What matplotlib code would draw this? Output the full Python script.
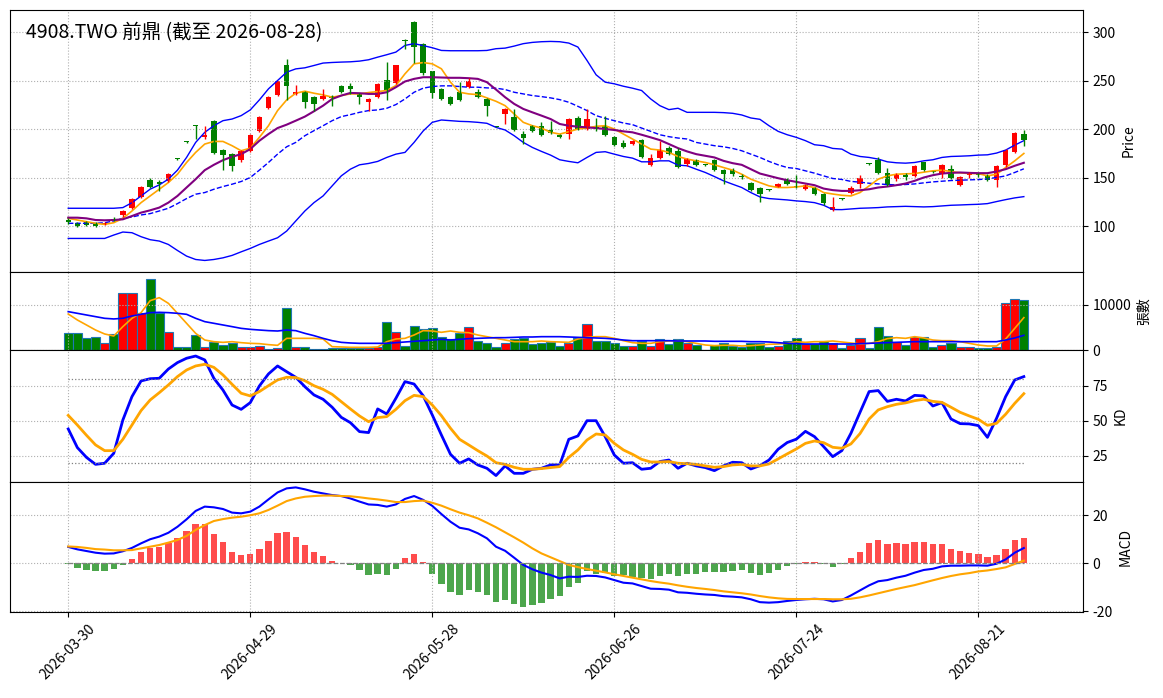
import numpy as np
import matplotlib
matplotlib.use("Agg")
import matplotlib.pyplot as plt

plt.rcParams['font.family'] = ['Noto Sans CJK TC', 'DejaVu Sans']
plt.rcParams['axes.unicode_minus'] = False

title = "4908.TWO 前鼎 (截至 2026-08-28)"
tick_labels = ["2026-03-30", "2026-04-29", "2026-05-28", "2026-06-26", "2026-07-24", "2026-08-21"]
tick_step = 20

open_ = [106, 103.5, 104, 103.5, 102.5, 107.5, 111, 119, 130, 147.5,
         145, 146, 169.5, 187, 204, 191.5, 208.5, 178, 174, 168,
         177.5, 197.5, 221.5, 235, 266, 236, 238, 233.5, 231, 234,
         244, 244, 236, 228, 233, 250.5, 247, 291.5, 310, 288,
         259.5, 241.5, 233.5, 238, 243, 238.5, 230.5, 203, 215, 212,
         195, 203.5, 203.5, 199.5, 194, 195, 211.5, 200, 202, 203.5,
         192, 185.5, 185, 189, 163, 170, 180.5, 177.5, 164, 168,
         163, 168, 158, 158, 151.5, 144, 139, 137.5, 140.5, 147,
         141, 138, 139.5, 133.5, 116.5, 128.5, 134, 143.5, 164, 168.5,
         155, 148.5, 152.5, 151.5, 165.5, 156, 153.5, 158.5, 142, 152.5,
         154, 152.5, 147, 163, 176, 195]
high = [108, 104, 105, 104, 104, 109, 117, 128.5, 141, 150,
        147, 154.5, 170, 187.5, 204.5, 203, 209.5, 179, 175, 178.5,
        195, 213.5, 234.5, 250, 272.5, 245, 239, 234.5, 241, 235,
        245, 247, 237, 232, 247, 269, 266.5, 292.5, 311, 289,
        260, 242.5, 234.5, 248, 253, 241, 231.5, 203.5, 221.5, 220.5,
        198, 204.5, 207, 208, 195, 211.5, 213, 220.5, 211, 213,
        193, 189, 189, 190, 174, 188, 182, 180, 170, 169,
        163.5, 169, 159, 159.5, 154, 145, 140, 138, 144.5, 149,
        153, 143.5, 140.5, 134.5, 129.5, 129, 141.5, 153, 164.5, 171,
        160, 155, 155, 162.5, 166.5, 157, 164, 163, 152, 156,
        155, 153.5, 162.5, 179.5, 197, 198.5]
low = [102, 99.5, 100, 99.5, 101.5, 105, 109, 118, 129, 139.5,
       136.5, 145, 168.5, 186, 189.5, 190, 174, 157.5, 157, 166.5,
       176.5, 196.5, 220.5, 234, 229.5, 235, 221.5, 218.5, 230, 224,
       237, 236.5, 226, 218.5, 232, 230, 246, 283, 268, 256,
       232, 229.5, 224.5, 228.5, 242, 232, 213, 202, 205, 198,
       185, 196.5, 193, 195, 190.5, 190, 199, 199, 198, 193,
       182.5, 180, 184, 170, 162, 169, 173, 159.5, 162, 162,
       162, 156.5, 143, 152, 148, 136, 125, 136, 140, 142,
       139, 137, 132, 121.5, 116, 126.5, 133, 139.5, 163, 154,
       141, 146, 147.5, 150.5, 157, 155, 149.5, 148.5, 141, 150,
       151, 146.5, 140, 160.5, 175, 182]
close = [104, 100.5, 101, 100, 103, 106.5, 116, 127.5, 140, 140.5,
         143.5, 153.5, 169, 186.5, 203.5, 194, 175, 173.5, 162, 177.5,
         194, 212.5, 233.5, 249, 244, 238, 227.5, 226, 234.5, 232,
         238, 241, 233, 230.5, 246, 240.5, 265.5, 291, 285, 257.5,
         237, 230.5, 225.5, 229.5, 250, 233, 224, 202.5, 220.5, 199,
         190.5, 197.5, 194, 196, 191.5, 210.5, 200, 210.5, 201.5, 194,
         183.5, 181, 188, 171.5, 170.5, 178.5, 174, 161, 169, 163,
         162.5, 157.5, 153.5, 154, 151, 137, 133.5, 137, 143, 143,
         140.5, 142.5, 133, 124, 119.5, 128, 139.5, 149, 163.5, 155,
         142, 153, 150.5, 161.5, 158, 155.5, 162.5, 149.5, 151, 154.5,
         152.5, 147, 161.5, 178.5, 196, 189]

ma5 = [107.9, 106.2, 104.5, 102.8, 101.7, 103.4, 107.9, 115.5, 124.1, 131,
       137.9, 144.8, 153.4, 165.5, 175.9, 184.5, 187.2, 187.2, 182.8, 177.6,
       180.3, 191.4, 203.4, 219, 230, 236.9, 239, 236.9, 235.2, 232.8,
       234.5, 236.2, 236.2, 237.6, 238.6, 239.7, 244.8, 256.9, 267.2, 268.5,
       267.2, 262.1, 248.3, 237.9, 236.2, 235.5, 232.1, 228.6, 224.1, 215.5,
       206.9, 203.4, 201, 196.6, 194.8, 197.2, 200, 201, 202.8, 203.4,
       200, 194.8, 189.7, 184.5, 179.3, 178.3, 175.9, 171.7, 169, 167.2,
       165.5, 163.1, 160.3, 157.6, 153.4, 148.3, 144.8, 141.4, 139.7, 139.7,
       140.3, 141.4, 139.7, 134.5, 133, 131.7, 131, 134.5, 141.4, 148.3,
       151.7, 153.4, 153.8, 154.1, 155.5, 156.9, 157.6, 156.2, 154.8, 154.1,
       154.1, 151.7, 153.4, 160.3, 167.2, 174.8]
ma10 = [108.6, 108.6, 107.9, 106.2, 105.9, 106.2, 106.9, 110.3, 113.8, 116.2,
        119, 124.1, 131, 139.7, 148.3, 157.6, 163.1, 167.9, 171.4, 174.1,
        179.3, 187.9, 194.8, 201, 204.5, 208.6, 212.8, 218.3, 224.1, 231,
        234.5, 237.2, 236.9, 236.2, 236.2, 237.9, 243.1, 249, 251.7, 253.4,
        253.4, 253.1, 252.8, 252.8, 252.4, 251.7, 248.3, 240.7, 232.8, 225.9,
        220.7, 217.2, 213.8, 210.3, 205.2, 203.4, 202.4, 201.7, 201, 200,
        199, 197.6, 196.6, 194.1, 191.4, 188.6, 184.5, 180.3, 176.9, 174.1,
        172.4, 170.7, 167.2, 164.8, 163.1, 158.6, 154.1, 151.7, 149.3, 147.2,
        145.5, 143.8, 142.1, 138.6, 137, 136.2, 136.2, 136.9, 137.9, 139.7,
        140.7, 142.1, 143.8, 146.6, 150, 152.4, 154.1, 154.8, 155.2, 154.8,
        154.5, 154.5, 156.2, 158.6, 162.1, 165.2]
bb_mid = [102.8, 102.8, 102.8, 102.8, 103.4, 105.2, 108, 109.3, 111.4, 112.8,
          115.5, 118.3, 123.1, 128.3, 132.8, 134.5, 137.9, 140.7, 143.1, 145.9,
          150, 157.6, 165.5, 174.1, 181.7, 186.2, 193.1, 198.3, 203.4, 208.6,
          212.8, 214.8, 217.2, 219, 219.7, 221.4, 225.2, 231, 237.9, 242.1,
          243.8, 244.5, 244.5, 243.8, 243.1, 243.1, 242.4, 242.1, 240.7, 237.9,
          236.2, 234.5, 233.4, 232.1, 230.3, 227.6, 223.4, 219, 213.8, 211,
          208.6, 206.2, 204.5, 201, 197.6, 194.1, 192.1, 190.7, 189.7, 186.2,
          184.5, 182.8, 181.7, 180, 177.6, 174.1, 170.7, 166.6, 163.1, 160.3,
          159.3, 156.9, 154.5, 151.7, 149, 148, 146, 145.2, 144.1, 143.4,
          142.8, 142.4, 142.8, 143.4, 144.5, 145.5, 146.2, 146.9, 147.2, 147.6,
          147.9, 148.6, 150, 151.7, 155.2, 159]
bb_up = [118.3, 118.3, 118.3, 118.3, 118.3, 118.3, 119, 124, 131, 138,
         142.4, 148.3, 157.6, 170.7, 186.2, 196.6, 203.4, 208.6, 210.3, 213.8,
         219.7, 230, 241.4, 250, 258.6, 262, 263.1, 265.5, 268, 268.6,
         269, 269.3, 270, 271.4, 274.1, 276.6, 279.3, 286.2, 288, 286,
         283.8, 281, 280.7, 280.7, 280.7, 280.7, 281, 282.8, 283.4, 285.5,
         288, 289.3, 290, 290.3, 290, 288.6, 284.5, 270.7, 255.9, 248.3,
         246.6, 244.1, 242.1, 239.7, 231, 224.1, 220, 221.4, 217.2, 217.2,
         217.2, 217.2, 216.9, 216.2, 214.5, 211.4, 210, 203.4, 197.6, 194.1,
         191.4, 188, 183.8, 182.8, 180, 179.3, 174.1, 171.7, 170.7, 169,
         166.2, 165.2, 164.8, 165.5, 167.2, 168.3, 170.7, 171.7, 172, 172.4,
         173.1, 173.4, 175.2, 178.3, 183.4, 188]
bb_low = [87.2, 87.2, 87.2, 87.2, 87.2, 90.7, 93.8, 93.1, 89, 85.9,
          84.5, 81, 74.8, 69, 65.5, 64.5, 65.5, 67.2, 69.7, 73.4,
          76.9, 81, 84.5, 87.9, 94.8, 105.2, 115.5, 124.1, 131, 141.4,
          151.7, 158.6, 163.1, 164.5, 166.6, 170.7, 174.1, 175.9, 186.2, 198,
          206.9, 209.3, 208.6, 207.9, 207.6, 206.9, 205.9, 201.7, 199, 193.1,
          186.2, 181, 176.9, 173.1, 168.3, 166.6, 165.2, 170.7, 175.9, 176.6,
          174.1, 171.7, 170, 166.2, 166.2, 167.2, 167.2, 162.8, 162.1, 158.6,
          155.2, 151, 146.6, 143.1, 139.7, 134.5, 130, 128.3, 127.6, 126.9,
          125.9, 125.2, 124.1, 121.4, 117, 116.9, 117.6, 118.3, 118.6, 119,
          119.7, 120, 120.3, 120, 119.7, 120, 120.7, 121.4, 121.7, 122.1,
          122.4, 123.1, 125.2, 127.2, 129, 130.3]

volume = [3700, 3700, 2600, 2960, 1630, 3480, 12600, 12600, 8300, 15700,
          8300, 3930, 740, 590, 3260, 740, 1700, 1180, 1480, 670,
          670, 890, 300, 520, 9260, 740, 590, 300, 220, 520,
          520, 370, 370, 520, 590, 6300, 4070, 960, 5400, 4600,
          4800, 2960, 2370, 3700, 5040, 2000, 1630, 590, 1630, 2370,
          2740, 1260, 1480, 1700, 960, 1480, 2740, 5700, 2070, 2070,
          1480, 960, 960, 2000, 960, 2440, 1260, 2370, 1480, 1040,
          100, 1040, 1480, 890, 590, 1480, 1480, 670, 960, 2070,
          2590, 1260, 1260, 1930, 1560, 440, 1040, 2740, 370, 5190,
          3190, 1850, 1040, 2810, 2960, 740, 1190, 1480, 740, 590,
          520, 520, 590, 10370, 11330, 11190]
vol_ma5 = [8000, 6670, 5560, 4440, 3560, 3110, 5190, 7040, 8300, 10960,
           11630, 10370, 8150, 5930, 3700, 2220, 1850, 1700, 1850, 1630,
           1480, 1410, 1190, 1040, 2590, 2590, 2590, 2590, 2440, 740,
           670, 590, 590, 590, 670, 1850, 2440, 2590, 3330, 4300,
           4220, 3930, 4220, 3930, 3850, 3330, 2960, 2590, 2220, 1850,
           1850, 1850, 2000, 1850, 1780, 1700, 2440, 2810, 2960, 2960,
           2590, 2070, 1630, 1480, 1480, 1850, 2000, 2070, 1850, 1480,
           1110, 960, 1040, 1040, 890, 960, 1110, 1260, 1330, 1480,
           1850, 1700, 1850, 1850, 2000, 1780, 1560, 1330, 1480, 1850,
           2520, 2740, 2590, 2960, 2670, 2220, 2070, 2070, 1850, 1480,
           1110, 890, 890, 2440, 4810, 7190]
vol_ma20 = [8520, 8150, 7780, 7410, 7040, 6900, 7040, 7560, 7930, 8300,
            8370, 8300, 8150, 7930, 7040, 6300, 5930, 5560, 5190, 4810,
            4590, 4440, 4300, 4220, 4440, 4300, 3700, 3190, 2590, 2070,
            1700, 1560, 1480, 1480, 1480, 1480, 1630, 1780, 1930, 2070,
            2220, 2370, 2220, 2370, 2520, 2590, 2670, 2740, 2740, 2810,
            2890, 2890, 2960, 2960, 2960, 2890, 2810, 2740, 2670, 2590,
            2440, 2220, 2070, 2070, 2070, 2070, 2070, 2000, 2000, 2000,
            2000, 1930, 1930, 1930, 1930, 1850, 1850, 1780, 1630, 1480,
            1410, 1330, 1330, 1330, 1330, 1330, 1330, 1410, 1480, 1560,
            1630, 1700, 1780, 1850, 1850, 1850, 1850, 1850, 1850, 1850,
            1850, 1850, 1850, 2220, 2670, 3260]

k_line = [44.3, 31, 24, 19, 19.8, 26.9, 50.7, 67.4, 78.6, 80.2,
          80.5, 87.1, 91.7, 94.8, 96.4, 93.6, 80.5, 72.1, 61.4, 58.3,
          63.1, 75, 83.6, 89.3, 85.2, 81.2, 74.5, 68.6, 65.5, 59.8,
          52.6, 48.8, 42.4, 41.7, 58.6, 55, 66.2, 78.1, 76.4, 68,
          54.3, 40, 26.2, 19.8, 22.9, 18.6, 16.2, 11, 17.9, 12.6,
          12.6, 15.5, 16.2, 18.6, 18.6, 36.9, 39.3, 50.2, 50.2, 38.8,
          25.7, 19.8, 20.2, 15.5, 16.2, 21, 22.1, 16.2, 19.8, 17.9,
          16.7, 14.5, 17.9, 20.5, 20.2, 15.7, 18.1, 22.1, 29.8, 34.6,
          37, 42.6, 38.8, 31.7, 24.5, 28.8, 41.2, 56.2, 71, 71.7,
          64, 65.5, 64.3, 68.3, 67.9, 60.7, 63.1, 51.4, 48.1, 47.9,
          46.7, 38.3, 51.9, 67.4, 79.3, 81.7]
d_line = [54, 47.1, 39.8, 32.9, 28.8, 28.8, 36.9, 47.1, 57.4, 65,
          70.2, 75.7, 81.7, 86.4, 89.3, 90.5, 88.3, 82.9, 76.2, 69.8,
          67.9, 71, 75.2, 79.3, 81.2, 81, 78.8, 75.2, 72.6, 69,
          63.8, 58.6, 53.6, 49.5, 52.4, 53.1, 58.3, 64.5, 68.3, 67.4,
          61.4, 53.8, 44.8, 36.9, 32.9, 28.8, 25, 20.2, 19, 16.9,
          15.5, 15.5, 16, 16.7, 17.4, 24, 29.3, 36.4, 40.7, 40,
          34, 29.3, 26.2, 22.6, 20.7, 20.7, 21, 19.8, 19.5, 19,
          17.9, 16.9, 17.4, 18.6, 19, 17.9, 17.9, 19.3, 22.9, 26.5,
          30, 34, 35.7, 34.5, 31.2, 30.5, 33.6, 41, 51.4, 57.9,
          60.2, 61.9, 62.9, 64.5, 65.5, 64, 63.3, 59.8, 56.2, 53.6,
          51.2, 46.9, 48.3, 54.8, 62.6, 69.5]
kd_levels = [20, 80]

dif = [6.7, 5.7, 5, 4.3, 3.9, 4, 4.9, 6.3, 8.2, 9.9,
       11, 12.6, 15.1, 18.2, 21.7, 23.5, 23.2, 22.5, 21, 20.7,
       21.4, 23.5, 26.5, 29.4, 31.1, 31.5, 30.7, 29.7, 29, 28.3,
       27.9, 26.9, 25.6, 24.4, 24.2, 23.5, 24.4, 26.7, 27.9, 26.3,
       23.8, 20.4, 17.2, 14.7, 14, 12.4, 10.3, 6.8, 5.1, 2.2,
       -0.8, -2.6, -4, -5, -6.4, -5.7, -5.8, -5.3, -5.4, -6,
       -7.1, -8.2, -8.5, -9.6, -10.7, -10.8, -11.1, -12.2, -12.4, -12.8,
       -13.1, -13.3, -13.8, -14, -14.3, -15.1, -16.3, -16.5, -16.3, -15.8,
       -15.4, -15.1, -14.9, -15.1, -16, -15.4, -13.5, -11.4, -9.3, -7.6,
       -7.1, -6.1, -5.3, -4, -2.9, -2.4, -1.4, -1.1, -1.1, -1,
       -1, -1.1, -0.3, 1.5, 4.3, 6.25]
dea = [6.9, 6.7, 6.3, 5.8, 5.6, 5.3, 5.3, 5.4, 6.1, 6.8,
       7.5, 8.5, 9.6, 11.3, 13.8, 15.8, 17.5, 18.3, 18.9, 19.3,
       19.9, 20.7, 22.1, 23.9, 25.8, 26.9, 27.6, 27.9, 28.1, 28.1,
       27.9, 27.8, 27.4, 26.9, 26.5, 26, 25.4, 25.4, 25.8, 26,
       25.1, 23.9, 22.4, 21, 19.9, 18.6, 16.8, 14.9, 12.8, 10.7,
       8.5, 6.1, 4, 2.4, 0.8, -0.8, -1.7, -2.5, -3.2, -3.9,
       -4.7, -5.4, -6.1, -6.8, -7.5, -8.1, -8.6, -9.3, -9.9, -10.4,
       -10.8, -11.25, -11.8, -12.2, -12.6, -13.1, -13.75, -14.3, -14.7, -14.95,
       -15, -15, -15, -15, -15.1, -15.1, -14.9, -14.3, -13.5, -12.6,
       -11.7, -10.8, -10, -9.2, -8.2, -7.2, -6.25, -5.4, -4.7, -4.2,
       -3.5, -3.1, -2.5, -1.8, -0.4, 1]
osc = [-0.6, -1.9, -2.8, -3.2, -3.2, -2.4, -0.7, 1.7, 4.7, 6.4,
       6.8, 8.2, 10.4, 13.3, 16.4, 16.3, 12.1, 8.75, 4.7, 3.3,
       3.75, 5.8, 9.2, 12.6, 12.9, 10.8, 7.5, 4.7, 2.9, 0.8,
       0.1, -0.7, -2.8, -5, -4.4, -5, -2.5, 2.1, 3.75, 0.5,
       -4.6, -8.75, -11.9, -13.3, -11.25, -11.9, -13.3, -16.1, -15.4, -17.1,
       -18.2, -17.5, -16.5, -15, -13.75, -9.9, -8.2, -3.2, -4.6, -4.3,
       -5.3, -5, -5.7, -6.1, -6.7, -5.3, -4.6, -5.3, -4.6, -4.6,
       -3.75, -3.75, -3.75, -3.3, -2.9, -4, -4.9, -4, -2.9, -1.2,
       -0.2, 0.4, 0.4, -0.5, -1.5, -0.2, 2.1, 4.7, 8.5, 9.6,
       7.9, 8.5, 7.9, 8.75, 8.75, 7.9, 7.9, 5.8, 5, 4.2,
       3.75, 2.5, 3.3, 5.8, 9.6, 10.4]

n = len(close)
x = np.arange(n)
o = np.array(open_)
c = np.array(close)
up = c >= o
candle_colors = np.where(up, 'red', 'green')

W, H = 1163, 698
fig = plt.figure(figsize=(W / 100, H / 100), dpi=100)


def rect(top, bottom):
    return [10 / W, 1 - bottom / H, 1073 / W, (bottom - top) / H]


ax1 = fig.add_axes(rect(10, 272))
ax2 = fig.add_axes(rect(272, 350), sharex=ax1)
ax3 = fig.add_axes(rect(350, 482), sharex=ax1)
ax4 = fig.add_axes(rect(482, 612), sharex=ax1)

# price panel
ax1.plot(x, bb_up, color='blue', lw=1)
ax1.plot(x, bb_low, color='blue', lw=1)
ax1.plot(x, bb_mid, color='blue', lw=1, ls='--')
ax1.plot(x, ma5, color='orange', lw=1.2)
ax1.plot(x, ma10, color='purple', lw=1.5)
ax1.vlines(x, low, high, color=candle_colors, lw=1)
body = np.maximum(np.abs(c - o), 1.0)
ax1.bar(x, body, bottom=np.minimum(o, c), width=0.6, color=candle_colors)
ax1.set_ylim(52.6, 322.7)
ax1.text(0.015, 0.915, title, transform=ax1.transAxes, fontsize=14,
         ha='left', va='center')
ax1.set_ylabel("Price", fontsize=10)

# volume panel
ax2.bar(x, volume, width=1.0, color=candle_colors, edgecolor='#1f77b4', lw=0.8)
ax2.plot(x, vol_ma5, color='orange', lw=1.2)
ax2.plot(x, vol_ma20, color='blue', lw=1.2)
ax2.set_ylim(0, 17330)
ax2.set_yticks([0, 10000])
ax2.set_ylabel("張數", fontsize=10)

# KD panel
ax3.plot(x, k_line, color='blue', lw=2)
ax3.plot(x, d_line, color='orange', lw=2)
for lv in kd_levels:
    ax3.plot(x, [lv] * n, color='gray', ls=':', lw=0.9)
ax3.set_ylim(6.4, 100.7)
ax3.set_yticks([25, 50, 75])
ax3.set_ylabel("KD", fontsize=10)

# MACD panel
osc_a = np.array(osc)
ax4.bar(x, osc_a, width=0.7, color=np.where(osc_a >= 0, 'red', 'green'), alpha=0.7)
ax4.plot(x, dif, color='blue', lw=1.5)
ax4.plot(x, dea, color='orange', lw=1.5)
ax4.plot(x, [0] * n, color='gray', ls='--', lw=0.9)
ax4.set_ylim(-20.4, 33.75)
ax4.set_yticks([-20, 0, 20])
ax4.set_ylabel("MACD", fontsize=10)

for ax in (ax1, ax2, ax3, ax4):
    ax.yaxis.tick_right()
    ax.yaxis.set_label_position('right')
    ax.grid(True, ls=':', color='#b0b0b0', lw=0.8)
    ax.tick_params(labelsize=10)
    ax.set_xlim(-6.4, 111.5)

for ax in (ax1, ax2, ax3):
    ax.tick_params(labelbottom=False)

ticks = np.arange(0, n, tick_step)
ax4.set_xticks(ticks)
ax4.set_xticklabels(tick_labels)
ax4.tick_params(axis='x', rotation=45)

fig.savefig("out.png", dpi=100)
